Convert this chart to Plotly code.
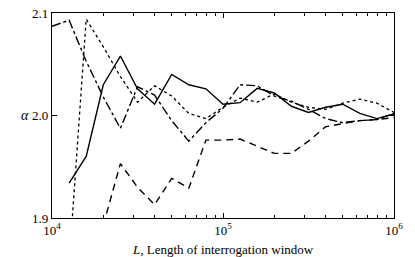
import numpy as np
import plotly.graph_objects as go

# x positions: log10(L) grid
log_L = [4.1, 4.2, 4.3, 4.4, 4.5, 4.6, 4.7, 4.8, 4.9, 5.0,
         5.1, 5.2, 5.3, 5.4, 5.5, 5.6, 5.7, 5.8, 5.9, 6.0]

solid = [1.934, 1.960, 2.030, 2.058, 2.026, 2.011, 2.040, 2.030, 2.026, 2.011,
         2.0125, 2.0265, 2.022, 2.009, 2.003, 2.008, 2.011, 2.002, 1.997, 2.0015]

dotted = [1.855, 2.094, 2.067, 2.038, 2.013, 2.029, 2.019, 2.002, 1.997, 2.008,
          2.017, 2.013, 2.021, 2.013, 2.008, 2.006, 2.012, 2.016, 2.012, 2.003]

dashdot_logL = [4.0] + log_L
dashdot = [2.087, 2.093, 2.053, 2.018, 1.9875, 2.028, 2.020, 1.995, 1.975, 1.993, 2.007,
           2.030, 2.029, 2.019, 2.014, 2.006, 1.997, 1.993, 1.995, 1.996, 2.002]

dashed_logL = log_L[2:]
dashed = [1.893, 1.953, 1.930, 1.913, 1.9387, 1.929, 1.976, 1.976,
          1.977, 1.970, 1.963, 1.963, 1.975, 1.989, 1.992, 1.995, 1.996, 1.998]

x_ticks = [1e4, 1e5, 1e6]
x_tick_text = ["10<sup>4</sup>", "10<sup>5</sup>", "10<sup>6</sup>"]
y_ticks = [1.9, 2.0, 2.1]
y_tick_text = ["1.9", "2.0", "2.1"]
x_title = "<i>L</i>, Length of interrogation window"
y_title = "<i>α</i>"

FONT = "Liberation Serif"

def xs(lv):
    return [10 ** v for v in lv]

fig = go.Figure()
fig.add_trace(go.Scatter(x=xs(log_L), y=solid, mode="lines",
                         line=dict(color="black", width=1.4, dash="solid")))
fig.add_trace(go.Scatter(x=xs(log_L), y=dotted, mode="lines",
                         line=dict(color="black", width=1.3, dash="dot")))
fig.add_trace(go.Scatter(x=xs(dashdot_logL), y=dashdot, mode="lines",
                         line=dict(color="black", width=1.4, dash="dashdot")))
fig.add_trace(go.Scatter(x=xs(dashed_logL), y=dashed, mode="lines",
                         line=dict(color="black", width=1.4, dash="7px,5px")))

minor_vals = [m * 10 ** e for e in (4, 5) for m in range(2, 10)]

fig.update_layout(
    width=415, height=257,
    margin=dict(l=52, r=21, t=13, b=39),
    paper_bgcolor="white", plot_bgcolor="white",
    showlegend=False,
    font=dict(family=FONT, size=13, color="black"),
    xaxis=dict(type="log", range=[4, 6], tickmode="array",
               tickvals=x_ticks, ticktext=x_tick_text, automargin=False,
               ticks="inside", ticklen=5, tickcolor="black",
               showline=True, linecolor="black", linewidth=1.2, mirror="allticks",
               showgrid=False, zeroline=False,
               minor=dict(tickmode="array", tickvals=minor_vals, ticks="inside",
                          ticklen=3, tickcolor="black", showgrid=False)),
    yaxis=dict(range=[1.9, 2.1], tickmode="array",
               tickvals=y_ticks, ticktext=y_tick_text, automargin=False,
               ticks="inside", ticklen=5, tickcolor="black",
               showline=True, linecolor="black", linewidth=1.2, mirror="allticks",
               showgrid=False, zeroline=False),
)
fig.add_annotation(text=y_title, xref="paper", yref="paper", x=-0.06, y=0.5,
                   xanchor="right", yanchor="middle", showarrow=False,
                   font=dict(size=14))
fig.add_annotation(text=x_title, xref="paper", yref="paper", x=0.5, y=-0.152,
                   xanchor="center", yanchor="middle", showarrow=False,
                   font=dict(size=13))

fig.write_html("out.html", config={"displayModeBar": False},
               post_script="document.body.style.margin='0';document.body.style.padding='0';")
